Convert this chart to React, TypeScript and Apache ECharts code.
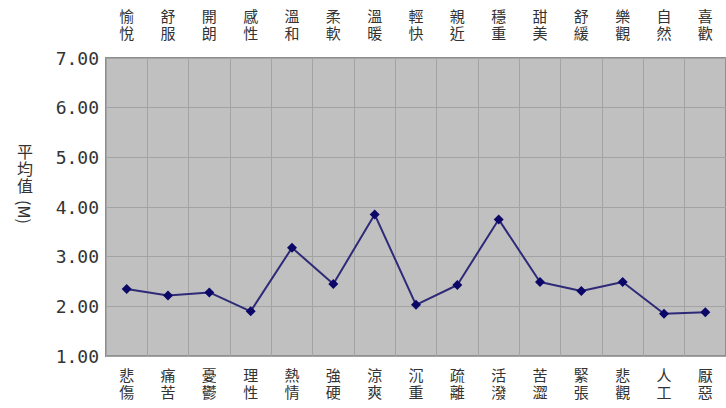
import React, { useEffect, useRef } from "react";
import * as echarts from "echarts";

const topCategories = ["愉悅", "舒服", "開朗", "感性", "溫和", "柔軟", "溫暖", "輕快", "親近", "穩重", "甜美", "舒緩", "樂觀", "自然", "喜歡"];
const bottomCategories = ["悲傷", "痛苦", "憂鬱", "理性", "熱情", "強硬", "涼爽", "沉重", "疏離", "活潑", "苦澀", "緊張", "悲觀", "人工", "厭惡"];
const meanValues = [2.35, 2.22, 2.28, 1.9, 3.18, 2.45, 3.85, 2.03, 2.43, 3.75, 2.49, 2.31, 2.49, 1.85, 1.88];
const yMin = 1;
const yMax = 7;
const yInterval = 1;
const yAxisTitleChars = ["平", "均", "值"];
const yAxisTitleTail = "(M)";

const cjk = "'Noto Sans CJK TC', 'Noto Sans CJK JP', sans-serif";
const vertical = (s: string) => s.split("").join("\n");

export default function App() {
  const ref = useRef<HTMLDivElement>(null);
  useEffect(() => {
    if (!ref.current) return;
    document.body.style.margin = "0";
    const chart = echarts.init(ref.current, null, { renderer: "svg" });
    const labelStyle = {
      fontFamily: cjk,
      fontSize: 15,
      lineHeight: 17,
      color: "#333",
      interval: 0,
      formatter: (v: string) => vertical(v),
    };
    chart.setOption({
      animation: false,
      backgroundColor: "#ffffff",
      grid: {
        left: 106,
        top: 58,
        width: 627,
        height: 298,
        show: true,
        backgroundColor: "#c0c0c0",
        borderColor: "#8f8f8f",
        borderWidth: 2,
      },
      xAxis: [
        {
          type: "category",
          data: bottomCategories,
          position: "bottom",
          boundaryGap: true,
          axisLine: { show: false },
          axisTick: { show: false },
          axisLabel: { ...labelStyle, margin: 10 },
          splitLine: { show: true, lineStyle: { color: "#a3a3a3", width: 1 } },
        },
        {
          type: "category",
          data: topCategories,
          position: "top",
          boundaryGap: true,
          axisLine: { show: false },
          axisTick: { show: false },
          axisLabel: { ...labelStyle, margin: 17 },
          splitLine: { show: false },
        },
      ],
      yAxis: {
        type: "value",
        min: yMin,
        max: yMax,
        interval: yInterval,
        axisLine: { show: false },
        axisTick: { show: false },
        axisLabel: {
          fontFamily: "'DejaVu Sans Mono', monospace",
          fontSize: 18,
          color: "#333",
          margin: 7,
          formatter: (v: number) => v.toFixed(2),
        },
        splitLine: { show: true, lineStyle: { color: "#a3a3a3", width: 1 } },
      },
      graphic: [
        ...yAxisTitleChars.map((c, i) => ({
          type: "text",
          x: 25,
          y: 151 + i * 17,
          style: {
            text: c,
            fontFamily: cjk,
            fontSize: 16,
            fill: "#333",
            align: "center",
            verticalAlign: "middle",
          },
        })),
        {
          type: "text",
          x: 25,
          y: 212,
          rotation: -Math.PI / 2,
          style: {
            text: yAxisTitleTail,
            fontFamily: cjk,
            fontSize: 16,
            fill: "#333",
            align: "center",
            verticalAlign: "middle",
          },
        },
      ],
      series: [
        {
          type: "line",
          xAxisIndex: 0,
          data: meanValues,
          symbol: "diamond",
          symbolSize: 10,
          lineStyle: { color: "#2e2a78", width: 2 },
          itemStyle: { color: "#0c0868" },
        },
      ],
    });
    return () => chart.dispose();
  }, []);
  return <div ref={ref} style={{ width: 726, height: 408 }} />;
}
